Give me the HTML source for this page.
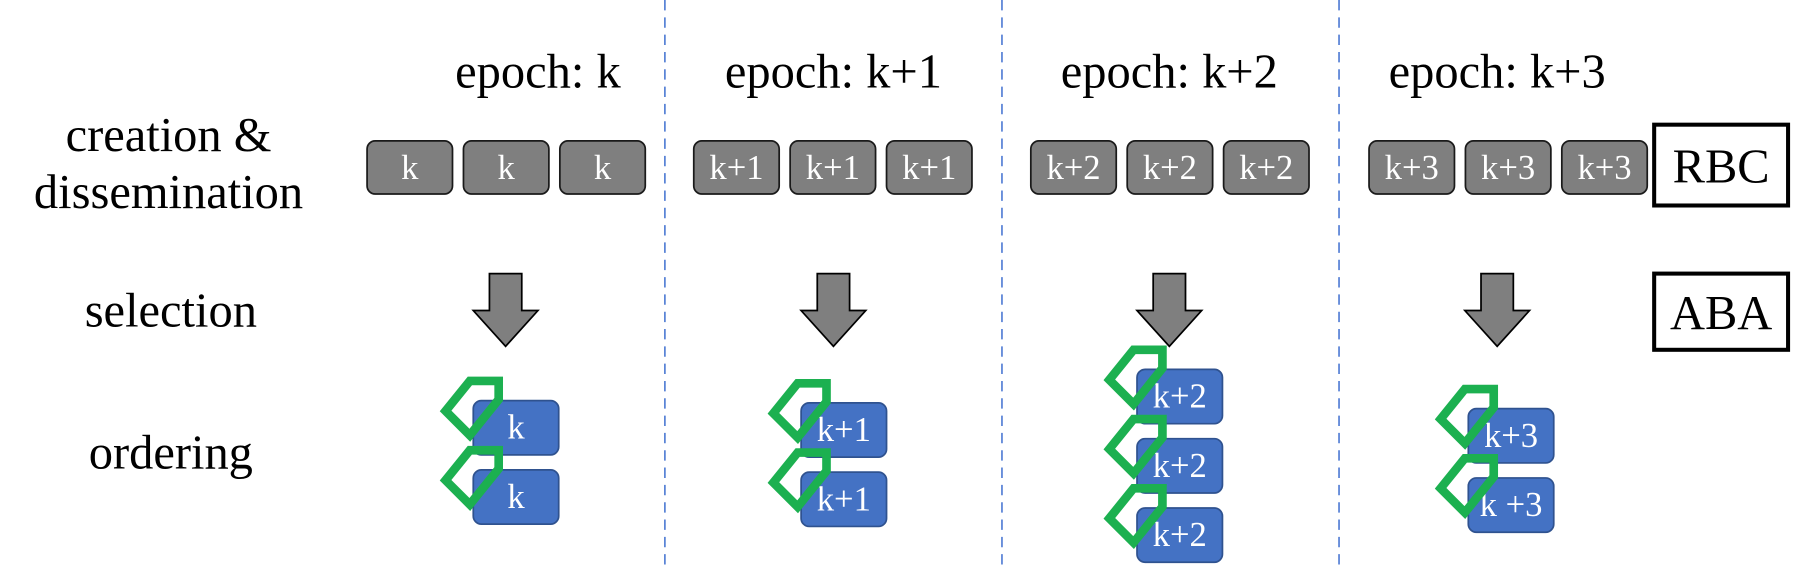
<!DOCTYPE html>
<html><head><meta charset="utf-8"><style>
html,body{margin:0;padding:0;background:#fff;}
svg{display:block;font-family:"Liberation Serif",serif;}
</style></head><body>
<svg id="d" width="1810" height="583" viewBox="0 0 1568 505" preserveAspectRatio="none" xmlns="http://www.w3.org/2000/svg">
<g font-size="42" text-anchor="middle">
<text x="146" y="131">creation &amp;</text>
<text x="146" y="180">dissemination</text>
<text x="148" y="283">selection</text>
<text x="148" y="406">ordering</text>
</g>
<g>
<rect x="1433" y="108" width="116" height="70" fill="#fff" stroke="#000" stroke-width="3.5"/>
<text x="1491" y="158" font-size="42" text-anchor="middle">RBC</text>
</g>
<g>
<rect x="1433" y="237" width="116" height="66" fill="#fff" stroke="#000" stroke-width="3.5"/>
<text x="1491" y="285" font-size="42" text-anchor="middle">ABA</text>
</g>
</svg>
<script>
const epochLabels = ["epoch: k","epoch: k+1","epoch: k+2","epoch: k+3"];
const blockLabels = ["k","k+1","k+2","k+3"];
const orderedLabels = [["k","k"],["k+1","k+1"],["k+2","k+2","k+2"],["k+3","k +3"]];
const orderedTop = [347, 349, 320, 354];
const dividerX = [576, 868, 1160];

// layout (not data)
const titleCx = [466, 722, 1013, 1297];
const grayX0 = [318, 601, 893, 1186];
const arrowCx = [438, 722, 1013, 1297];
const blueX0 = [410, 694, 985, 1272];

const NS = "http://www.w3.org/2000/svg";
const svg = document.getElementById('d');
function mk(tag, attrs, parent) {
  const e = document.createElementNS(NS, tag);
  for (const k in attrs) e.setAttribute(k, attrs[k]);
  (parent || svg).appendChild(e);
  return e;
}
dividerX.forEach((x) => {
  const l = mk('line', {x1: x, x2: x, y1: 0, y2: 490, stroke: '#3f6fd0', 'stroke-width': 1.3, 'stroke-dasharray': '9 6'});
  
  
});
epochLabels.forEach((lab, i) => {
  const t = mk('text', {x: titleCx[i], y: 76, 'font-size': 42, 'text-anchor': 'middle'});
  t.textContent = lab;
  
  
  for (let j = 0; j < 3; j++) {
    const g = mk('g', {});
    
    
    const bx = grayX0[i] + j * 83.5;
    mk('rect', {x: bx, y: 122, width: 74, height: 46, rx: 7, fill: '#7f7f7f', stroke: '#1a1a1a', 'stroke-width': 1.5}, g);
    const bt = mk('text', {x: bx + 37, y: 155, 'font-size': 30, fill: '#fff', 'text-anchor': 'middle'}, g);
    bt.textContent = blockLabels[i];
  }
  const cx = arrowCx[i];
  const a = mk('path', {d: `M${cx-14},237 h28 v32 h14 l-28,31 l-28,-31 h14 z`, fill: '#7f7f7f', stroke: '#000', 'stroke-width': 1.5});
  
  
  const bx = blueX0[i];
  orderedLabels[i].forEach((ol, j) => {
    const by = orderedTop[i] + j * 60;
    const g = mk('g', {});
    
    
    mk('rect', {x: bx, y: by, width: 74, height: 47, rx: 7, fill: '#4472c4', stroke: '#2f528f', 'stroke-width': 1.5}, g);
    const tt = mk('text', {x: bx + 37, y: by + 33, 'font-size': 30, fill: '#fff', 'text-anchor': 'middle'}, g);
    tt.textContent = ol;
    const tag = mk('polygon', {points: `${bx-3},${by-17} ${bx+22},${by-17} ${bx+22},${by-1} ${bx-3},${by+30} ${bx-24},${by+9}`, fill: 'none', stroke: '#1cb050', 'stroke-width': 7.5});
    
    
  });
});
</script>
</body></html>
